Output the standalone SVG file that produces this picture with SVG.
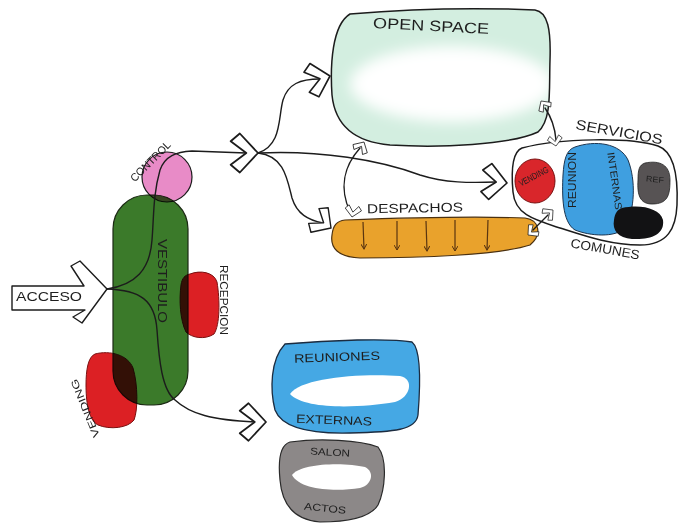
<svg xmlns="http://www.w3.org/2000/svg" width="680" height="524" viewBox="0 0 680 524">
<defs>
<style>
.ln{fill:none;stroke:#1c1c1c;stroke-width:1.4;stroke-linecap:round}
.chev{fill:#fff;stroke:#1c1c1c;stroke-width:1.4;stroke-linejoin:round}
.ol{fill:none;stroke:#1c1c1c;stroke-width:1.5}
.t{font-family:"Liberation Sans",Arial,sans-serif;fill:#1e1e1e;text-anchor:middle;dominant-baseline:middle}
.mul{mix-blend-mode:multiply}
.tick{fill:none;stroke:#5a3510;stroke-width:1.2}
</style>
<path id="chev" d="M0,0 L-14,-15 L-21,-9 L-9,0 L-21,9 L-14,15 Z"/>
<filter id="blur" x="-50%" y="-100%" width="200%" height="300%"><feGaussianBlur stdDeviation="7"/></filter>
<marker id="tk" viewBox="0 0 6 6" refX="5" refY="3" markerWidth="5" markerHeight="5" orient="auto"><path d="M0,0 L5,3 L0,6" fill="none" stroke="#5a3510" stroke-width="1"/></marker>
</defs>
<rect width="680" height="524" fill="#fff"/>

<g id="open-space">
<path d="M350,14 C420,8 490,8 535,10 C548,12 551,30 550,60 C549,90 552,120 538,132 C510,145 440,148 390,145 C355,142 335,125 332,95 C330,65 332,25 350,14 Z" fill="#d3eee0"/>
<ellipse cx="452" cy="84" rx="102" ry="38" fill="#fff" filter="url(#blur)"/>
<path class="ol" d="M350,14 C420,8 490,8 535,10 C548,12 551,30 550,60 C549,90 552,120 538,132 C510,145 440,148 390,145 C355,142 335,125 332,95 C330,65 332,25 350,14 Z"/>
<text class="t" x="431" y="27" font-size="15" textLength="116" lengthAdjust="spacingAndGlyphs" transform="rotate(3 431 27)">OPEN SPACE</text>
</g>

<g id="servicios-comunes">
<path class="ol" d="M522,148 C560,138 630,137 658,146 C675,152 678,180 677,205 C676,228 668,245 640,245 C610,245 585,236 560,228 C535,220 515,215 513,192 C511,170 512,152 522,148 Z" fill="#fff"/>
<ellipse cx="535" cy="181" rx="20" ry="22" fill="#d9262b" stroke="#7a1010" stroke-width="1"/>
<text class="t" x="534" y="177" font-size="9" textLength="32" lengthAdjust="spacingAndGlyphs" transform="rotate(-28 534 177)">VENDING</text>
<path d="M575,147 C595,140 620,143 628,160 C636,180 635,210 625,228 C615,238 590,236 575,230 C562,222 562,195 563,175 C564,160 566,150 575,147 Z" fill="#3f9fe0" stroke="#1c3550" stroke-width="1"/>
<text class="t" x="573" y="180" font-size="10" textLength="56" lengthAdjust="spacingAndGlyphs" transform="rotate(-90 573 180)">REUNION</text>
<text class="t" x="614" y="181" font-size="10" textLength="58" lengthAdjust="spacingAndGlyphs" transform="rotate(82 614 181)">INTERNAS</text>
<path d="M645,163 C660,160 670,165 670,180 C670,195 668,204 652,204 C640,204 637,195 638,180 C638,170 639,165 645,163 Z" fill="#575354" stroke="#222" stroke-width="0.8"/>
<text class="t" x="655" y="180" font-size="8" textLength="18" lengthAdjust="spacingAndGlyphs" transform="rotate(5 655 180)">REF</text>
<path d="M622,208 C640,204 660,208 663,220 C665,235 650,240 632,239 C618,238 612,230 614,220 C615,213 617,210 622,208 Z" fill="#121214"/>
<text class="t" x="619" y="133" font-size="14" textLength="88" lengthAdjust="spacingAndGlyphs" transform="rotate(10 619 133)">SERVICIOS</text>
<text class="t" x="605" y="250" font-size="13" textLength="70" lengthAdjust="spacingAndGlyphs" transform="rotate(10 605 250)">COMUNES</text>
</g>

<g id="despachos">
<path d="M345,220 C400,218 470,216 525,218 C540,220 542,235 530,245 C500,255 420,258 360,258 C338,257 330,248 332,235 C333,225 337,221 345,220 Z" fill="#e9a22c" stroke="#4a3010" stroke-width="1.2"/>
<path class="tick" marker-end="url(#tk)" d="M363,222 L364,249"/>
<path class="tick" marker-end="url(#tk)" d="M397,221 L397,250"/>
<path class="tick" marker-end="url(#tk)" d="M426,221 L427,251"/>
<path class="tick" marker-end="url(#tk)" d="M455,220 L455,251"/>
<path class="tick" marker-end="url(#tk)" d="M488,220 L487,250"/>
<text class="t" x="415" y="209" font-size="13" textLength="96" lengthAdjust="spacingAndGlyphs" transform="rotate(-1 415 209)">DESPACHOS</text>
</g>

<g id="vestibulo">
<rect x="113" y="195" width="75" height="210" rx="34" fill="#3b7a2a" stroke="#1c2a14" stroke-width="1.2"/>
<text class="t" x="161" y="281" font-size="13" textLength="84" lengthAdjust="spacingAndGlyphs" transform="rotate(90 161 281)">VESTIBULO</text>
</g>

<g id="control">
<circle class="mul" cx="167" cy="177" r="25" fill="#e88bc7" stroke="#1c1c1c" stroke-width="1.2"/>
<text class="t" x="151" y="162" font-size="11" textLength="52" lengthAdjust="spacingAndGlyphs" transform="rotate(-45 151 162)">CONTROL</text>
</g>

<g id="recepcion">
<path class="mul" d="M190,274 C200,270 214,272 217,282 C220,300 220,325 214,334 C205,340 192,338 186,332 C180,320 179,300 181,285 C182,278 185,275 190,274 Z" fill="#dc2024" stroke="#7a1010" stroke-width="1"/>
<text class="t" x="223" y="300" font-size="10" textLength="70" lengthAdjust="spacingAndGlyphs" transform="rotate(90 223 300)">RECEPCION</text>
</g>

<g id="vending">
<path class="mul" d="M95,354 C110,350 128,355 133,368 C138,385 138,410 134,420 C128,428 110,430 98,425 C88,420 86,400 86,385 C86,370 88,357 95,354 Z" fill="#dc2024" stroke="#7a1010" stroke-width="1"/>
<text class="t" x="86" y="408" font-size="10" textLength="62" lengthAdjust="spacingAndGlyphs" transform="rotate(-112 86 408)">VENDING</text>
</g>

<g id="acceso">
<path class="chev" d="M12,286 L84,286 L71,266 L80,261 L107,289 L82,323 L73,317 L85,310 L12,310 Z"/>
<text class="t" x="49" y="298" font-size="13" textLength="66" lengthAdjust="spacingAndGlyphs">ACCESO</text>
</g>

<g id="reuniones-externas">
<path d="M285,344 C330,340 390,338 412,342 C422,350 420,390 418,415 C416,430 395,432 350,433 C310,434 282,428 275,410 C270,390 270,360 285,344 Z" fill="#45a8e4" stroke="#1c2c40" stroke-width="1.3"/>
<path d="M290,394 C300,378 360,373 400,376 C415,379 410,398 395,402 C360,408 305,410 290,394 Z" fill="#fff"/>
<text class="t" x="337" y="358" font-size="12" textLength="86" lengthAdjust="spacingAndGlyphs" transform="rotate(-2 337 358)">REUNIONES</text>
<text class="t" x="334" y="421" font-size="12" textLength="76" lengthAdjust="spacingAndGlyphs" transform="rotate(2 334 421)">EXTERNAS</text>
</g>

<g id="salon-actos">
<path d="M290,442 C320,438 360,440 378,447 C388,460 385,490 378,505 C370,518 345,522 320,522 C295,520 282,505 280,480 C278,460 280,445 290,442 Z" fill="#8c8888" stroke="#2a2a2a" stroke-width="1.2"/>
<path d="M292,475 C300,463 345,462 365,467 C375,472 372,485 360,488 C335,492 300,490 292,475 Z" fill="#fff"/>
<text class="t" x="330" y="453" font-size="10" textLength="40" lengthAdjust="spacingAndGlyphs" transform="rotate(3 330 453)">SALON</text>
<text class="t" x="325" y="509" font-size="10" textLength="42" lengthAdjust="spacingAndGlyphs" transform="rotate(6 325 509)">ACTOS</text>
</g>

<g id="connectors">
<path class="ln" d="M107,289 C135,285 150,270 152,240 C154,215 153,195 160,170 C165,156 176,152 192,151 L246,153"/>
<path class="ln" d="M107,289 C140,290 155,300 157,330 C159,360 162,390 175,400 C190,414 212,420 255,422"/>
<path class="ln" d="M258,153 C282,145 278,118 283,100 C288,84 300,79 320,79"/>
<path class="ln" d="M258,153 C320,150 380,160 420,175 C445,183 470,183 496,182"/>
<path class="ln" d="M258,153 C284,156 287,178 292,198 C297,214 308,220 323,223"/>
<use href="#chev" class="chev" transform="translate(258,153) scale(1.3)"/>
<use href="#chev" class="chev" transform="translate(330,76) rotate(-15) scale(1.15)"/>
<use href="#chev" class="chev" transform="translate(507,183) rotate(5) scale(1.2)"/>
<use href="#chev" class="chev" transform="translate(331,228) rotate(35)"/>
<use href="#chev" class="chev" transform="translate(266,422) scale(1.25)"/>
<path class="ln" d="M360,148 C345,165 338,185 350,212"/>
<use href="#chev" class="chev" transform="translate(364,142) rotate(-60) scale(0.55)"/>
<use href="#chev" class="chev" transform="translate(352,217) rotate(100) scale(0.55)"/>
<path class="ln" d="M545,108 C552,118 555,128 556,140"/>
<use href="#chev" class="chev" transform="translate(541,101) rotate(-125) scale(0.5)"/>
<use href="#chev" class="chev" transform="translate(556,146) rotate(80) scale(0.5)"/>
<path class="ln" d="M548,215 L533,230"/>
<use href="#chev" class="chev" transform="translate(553,210) rotate(-40) scale(0.5)"/>
<use href="#chev" class="chev" transform="translate(528,235) rotate(140) scale(0.5)"/>
</g>
</svg>
